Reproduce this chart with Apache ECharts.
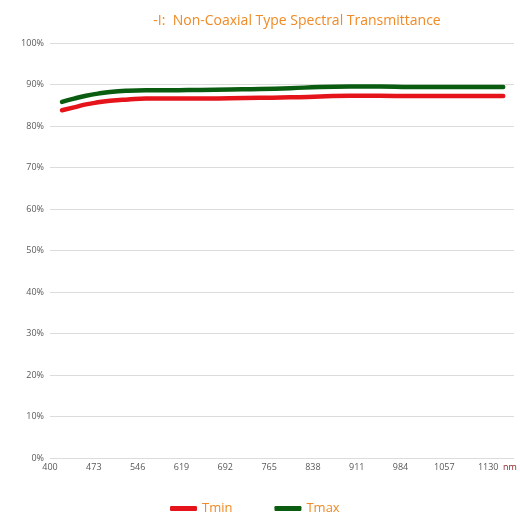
<!DOCTYPE html>
<html><head><meta charset="utf-8">
<script src="https://cdn.jsdelivr.net/npm/echarts@6/dist/echarts.min.js"></script>
<style>html,body{margin:0;padding:0;background:#fff}#c{width:520px;height:515px}</style>
</head><body><div id="c"></div>
<script>
const wavelengths = [420,440,460,480,500,530,560,600,650,700,750,800,850,900,950,1000,1050,1100,1155];
const tmin = [83.8,84.5,85.2,85.7,86.1,86.4,86.6,86.6,86.6,86.7,86.8,86.9,87.1,87.3,87.3,87.2,87.2,87.2,87.2];
const tmax = [85.8,86.6,87.3,87.8,88.2,88.5,88.6,88.6,88.7,88.8,88.9,89.1,89.4,89.5,89.5,89.4,89.4,89.4,89.4];
const xTicks = [400,473,546,619,692,765,838,911,984,1057,1130];
const seriesNames = ['Tmin','Tmax'];

const chart = echarts.init(document.getElementById('c'));
const font = '"Open Sans", "Noto Sans", sans-serif';
chart.setOption({
  animation: false,
  title: {
    text: '-I:  Non-Coaxial Type Spectral Transmittance',
    left: 292, textAlign: 'center', top: 9,
    textStyle: {color: '#f08a24', fontSize: 14, fontWeight: 'normal', fontFamily: font}
  },
  legend: {
    data: seriesNames, left: 165, top: 497, itemWidth: 27, itemHeight: 5, itemGap: 42,
    icon: 'roundRect',
    textStyle: {color: '#f08a24', fontSize: 13, fontFamily: font, padding: [4,0,0,0]}
  },
  grid: {left: 50, right: 6, top: 43, bottom: 57},
  xAxis: {
    type: 'value', min: 400, max: 1173,
    axisLine: {show: false}, axisTick: {show: false}, splitLine: {show: false},
    axisLabel: {customValues: xTicks, formatter: v => String(v), color: '#595959', fontSize: 9, fontFamily: font, margin: 5}
  },
  yAxis: {
    type: 'value', min: 0, max: 100, interval: 10,
    axisLine: {show: false}, axisTick: {show: false},
    splitLine: {lineStyle: {color: '#dcdcdc', width: 1}},
    axisLabel: {formatter: '{value}%', color: '#595959', fontSize: 9, fontFamily: font, margin: 6}
  },
  graphic: [{type: 'text', left: 503, top: 463, style: {text: 'nm', fill: '#8b1a1a', fontSize: 9, fontFamily: font}}],
  series: [
    {name: seriesNames[0], type: 'line', smooth: true, showSymbol: false, color: '#e5141b',
     lineStyle: {width: 4.5, cap: 'round'}, data: wavelengths.map((w,i)=>[w,tmin[i]])},
    {name: seriesNames[1], type: 'line', smooth: true, showSymbol: false, color: '#0a5d10',
     lineStyle: {width: 4.5, cap: 'round'}, data: wavelengths.map((w,i)=>[w,tmax[i]])}
  ]
});
</script></body></html>
